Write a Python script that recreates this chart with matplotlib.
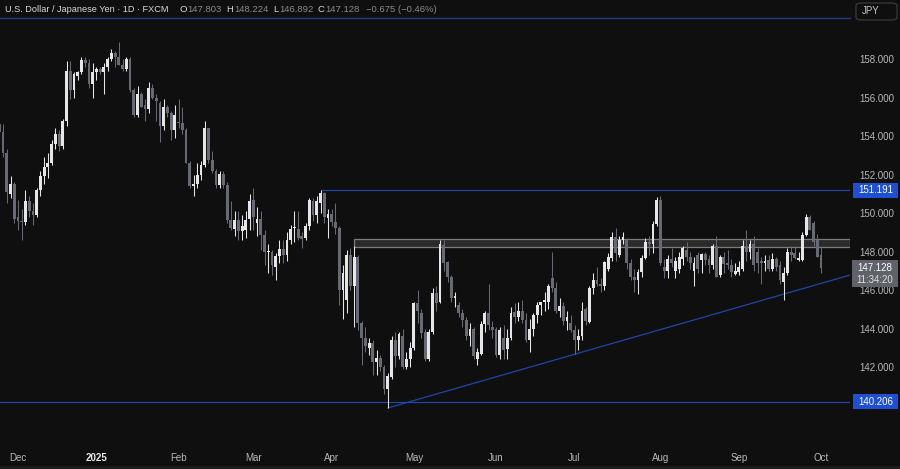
import numpy as np
import pandas as pd
import matplotlib
matplotlib.use("Agg")
import matplotlib.pyplot as plt
from matplotlib.patches import Rectangle, FancyBboxPatch

plt.rcParams['font.family'] = ['Liberation Sans', 'DejaVu Sans']

# Dias de cotizacion FXCM (sin 25-dic ni 1-ene)
fechas = pd.bdate_range('2024-11-25', '2025-10-01')
fechas = fechas[~fechas.isin(pd.to_datetime(['2024-12-25', '2025-01-01']))]

# Velas diarias USD/JPY
aperturas = [
    # nov
    154.6, 154.2, 153.1, 151.0, 151.5,
    # dic
    149.8, 149.6, 149.55, 150.6, 150.1, 149.9, 151.2, 151.9, 152.4, 152.6, 153.6,
    154.1, 153.5, 154.8, 157.4, 156.4, 157.1, 157.3, 157.95, 157.8, 156.7,
    # ene
    157.3, 157.5, 157.3, 157.6, 158.0, 158.3, 158.1, 157.7, 157.5, 158.0, 156.4,
    155.1, 156.2, 155.6, 155.4, 156.5, 155.95, 155.7, 154.5, 155.5, 155.2, 154.3,
    # feb
    154.75, 154.65, 154.3, 152.6, 151.4, 151.5, 152.0, 152.5, 154.4, 152.75,
    152.2, 151.45, 152.05, 151.45, 149.65, 149.15, 149.65, 149.05, 149.1, 149.7,
    # mar
    150.7, 149.5, 149.7, 148.85, 147.95, 148.0, 147.2, 147.75, 148.15, 147.8,
    148.6, 149.2, 149.15, 148.8, 148.7, 149.3, 150.6, 149.9, 150.5, 151.05, 149.75,
    # abr
    149.95, 149.55, 149.2, 146.0, 145.5, 147.8, 146.2, 147.7, 144.3, 143.5, 143.0,
    143.25, 142.25, 142.45, 142.0, 140.85, 141.5, 143.4, 142.55, 143.6, 142.0, 142.4,
    # may
    143.0, 145.3, 144.8, 143.8, 142.4, 143.8, 145.85, 145.4, 148.35, 147.45, 146.7,
    145.6, 145.2, 144.8, 144.45, 143.6, 144.0, 142.4, 142.7, 144.25, 144.8, 144.1,
    # jun
    144.0, 142.6, 143.5, 142.95, 143.5, 144.85, 144.6, 144.9, 144.45, 143.4, 144.0,
    144.7, 145.2, 145.4, 145.4, 146.6, 146.1, 144.9, 145.15, 144.4, 144.3,
    # jul
    143.9, 143.4, 143.6, 145.0, 144.35, 146.1, 146.5, 146.3, 146.2, 147.1, 147.65,
    148.75, 147.8, 148.6, 148.6, 147.4, 146.7, 146.5, 146.95, 147.65, 148.5, 148.4,
    149.45,
    # ago
    150.7, 147.2, 147.0, 147.6, 147.0, 147.1, 147.6, 148.1, 147.7, 147.0, 147.8,
    147.55, 147.85, 147.6, 147.3, 148.3, 146.8, 147.7, 147.4, 147.3, 146.85,
    # sep
    146.95, 147.1, 148.3, 147.95, 148.4, 148.0, 147.5, 147.4, 147.55, 147.1, 147.6,
    147.3, 146.4, 146.9, 148.0, 147.9, 147.55, 147.55, 148.85, 149.77, 149.46, 148.6,
    # oct
    147.803,
]
maximos = [
    155.0, 154.6, 153.3, 151.9, 151.6,
    150.7, 150.2, 151.2, 150.9, 150.5, 151.3, 152.2, 152.9, 153.1, 153.8, 154.4,
    154.3, 154.9, 157.9, 157.9, 157.3, 157.4, 158.1, 158.1, 158.0, 157.8,
    157.6, 157.6, 157.8, 158.1, 158.5, 158.4, 158.9, 158.0, 158.1, 158.1, 156.5,
    156.6, 156.3, 155.9, 156.8, 156.7, 156.2, 155.8, 155.9, 155.6, 155.3, 155.6,
    155.9, 155.5, 154.4, 152.7, 152.0, 152.6, 152.7, 154.8, 154.4, 153.2,
    152.3, 152.2, 152.2, 151.6, 150.6, 150.1, 150.1, 149.9, 150.1, 151.0,
    151.3, 150.3, 150.1, 149.1, 148.4, 148.1, 147.9, 148.6, 148.6, 149.0,
    149.4, 150.1, 150.1, 149.0, 149.5, 150.8, 150.8, 150.9, 151.2, 151.1, 150.2,
    150.2, 150.5, 149.3, 147.3, 148.1, 148.2, 148.3, 147.8, 144.4, 144.1, 143.5,
    143.4, 142.9, 142.6, 142.1, 141.7, 143.6, 143.8, 143.8, 144.0, 142.8, 143.3,
    145.4, 146.0, 145.0, 144.0, 144.0, 146.1, 146.2, 148.6, 148.6, 147.5, 146.8,
    145.9, 145.4, 145.0, 144.6, 144.3, 144.1, 143.0, 144.4, 144.9, 146.3, 144.4,
    144.1, 144.1, 144.2, 144.0, 145.1, 145.3, 145.4, 145.5, 144.8, 144.5, 144.8,
    145.4, 145.4, 145.9, 146.3, 148.0, 146.4, 145.6, 145.4, 144.9, 144.7,
    144.2, 144.0, 145.4, 145.1, 146.2, 146.9, 147.2, 146.6, 147.5, 147.9, 149.0,
    149.2, 148.8, 149.0, 148.7, 147.6, 147.1, 147.1, 147.8, 148.7, 148.8, 149.6,
    150.85,
    150.9, 147.6, 147.8, 148.2, 147.7, 148.0, 148.3, 148.5, 148.0, 147.7, 148.0,
    147.9, 148.0, 147.8, 148.4, 148.8, 147.8, 148.0, 148.1, 147.6, 147.4,
    147.5, 148.6, 149.1, 148.6, 148.8, 148.2, 147.7, 147.8, 147.8, 147.9, 147.7,
    147.5, 147.2, 148.2, 148.3, 148.3, 148.0, 149.0, 149.95, 149.9, 149.6, 148.9,
    148.224,
]
minimos = [
    153.6, 152.9, 150.5, 150.8, 149.5,
    149.1, 148.6, 149.4, 149.8, 149.4, 149.8, 150.9, 151.5, 151.8, 152.5, 153.3,
    153.2, 153.3, 154.5, 155.9, 156.0, 156.9, 157.2, 157.6, 156.5, 156.0,
    156.9, 157.2, 156.2, 157.4, 157.9, 157.6, 157.7, 157.4, 157.4, 156.3, 155.0,
    155.0, 155.5, 154.8, 155.2, 155.9, 154.8, 153.7, 154.3, 155.0, 153.8, 153.9,
    154.4, 154.1, 152.6, 151.3, 150.9, 151.3, 151.7, 152.4, 152.6, 152.1,
    151.3, 151.3, 151.3, 149.5, 149.1, 148.8, 148.6, 148.6, 148.7, 149.1,
    149.1, 148.8, 148.1, 147.3, 146.9, 146.8, 146.5, 147.4, 147.4, 147.5,
    148.4, 148.5, 148.6, 148.2, 148.6, 149.1, 149.6, 149.5, 150.0, 149.5, 148.7,
    149.3, 148.9, 145.2, 144.5, 144.8, 146.0, 144.1, 143.9, 142.1, 142.8, 142.6,
    141.6, 141.6, 141.8, 140.6, 139.87, 141.4, 142.0, 142.4, 141.9, 141.9, 142.0,
    142.9, 144.3, 143.5, 142.3, 142.3, 143.7, 144.9, 145.3, 147.0, 146.4, 145.4,
    145.1, 144.6, 144.1, 143.4, 143.1, 142.4, 142.1, 142.6, 143.8, 143.9, 143.5,
    142.5, 142.4, 142.4, 142.4, 143.4, 144.3, 144.4, 144.3, 143.3, 142.8, 143.6,
    144.3, 144.7, 144.9, 145.0, 145.9, 144.8, 144.6, 144.2, 143.9, 143.8,
    142.7, 142.9, 143.4, 144.2, 144.3, 145.8, 146.2, 145.9, 146.0, 147.0, 147.5,
    147.5, 147.7, 148.4, 147.1, 146.5, 145.9, 145.8, 146.7, 147.6, 147.8, 147.9,
    149.3,
    147.3, 146.6, 146.6, 147.2, 146.6, 146.9, 147.3, 147.5, 147.1, 146.2, 146.9,
    146.9, 147.3, 146.9, 147.1, 146.7, 146.7, 146.9, 147.1, 146.7, 146.8,
    146.8, 147.0, 147.5, 147.6, 147.0, 146.9, 146.3, 147.0, 147.0, 147.0, 147.0,
    146.3, 145.5, 146.8, 147.5, 147.6, 147.5, 147.5, 148.8, 149.1, 148.3, 147.7,
    146.892,
]
cierres = [
    154.2, 153.1, 151.1, 151.5, 149.7,
    149.6, 149.55, 150.6, 150.1, 149.9, 151.2, 151.9, 152.4, 152.6, 153.6, 154.1,
    153.5, 154.8, 157.4, 156.4, 157.2, 157.3, 157.95, 157.8, 156.7, 157.3,
    157.5, 157.3, 157.6, 158.0, 158.3, 158.1, 157.7, 157.5, 158.0, 156.4, 155.1,
    156.2, 155.5, 155.4, 156.5, 155.95, 155.8, 154.5, 155.5, 155.2, 154.3, 155.1,
    154.65, 154.3, 152.6, 151.4, 151.5, 152.0, 152.5, 154.4, 152.75, 152.2,
    151.45, 152.05, 151.45, 149.65, 149.2, 149.65, 149.05, 149.3, 149.65, 150.6,
    149.8, 149.7, 148.85, 148.0, 148.05, 147.3, 147.75, 148.15, 147.8, 148.6,
    149.15, 149.25, 148.7, 148.65, 149.3, 150.7, 149.9, 150.6, 151.05, 149.8, 149.95,
    149.55, 149.2, 146.0, 146.9, 147.8, 146.2, 147.7, 144.3, 143.5, 143.1, 143.25,
    142.25, 142.45, 142.0, 140.85, 141.55, 143.4, 142.55, 143.7, 142.0, 142.4, 143.0,
    145.3, 144.9, 143.75, 142.4, 143.8, 145.85, 145.35, 148.4, 147.4, 146.7, 145.6,
    145.7, 144.8, 144.45, 143.6, 144.0, 142.55, 142.8, 144.25, 144.8, 144.2, 143.9,
    142.6, 143.9, 142.9, 143.5, 144.8, 144.6, 144.9, 144.45, 143.4, 144.0, 144.7,
    145.2, 145.4, 145.5, 146.2, 146.1, 144.9, 145.15, 144.4, 144.6, 143.9,
    143.4, 143.6, 144.9, 144.4, 146.1, 146.5, 146.3, 146.2, 147.45, 147.7, 148.75,
    147.9, 148.6, 148.75, 147.4, 146.7, 146.5, 146.95, 147.65, 148.5, 148.4, 149.45,
    150.7,
    147.4, 147.0, 147.6, 147.4, 147.5, 147.7, 148.2, 147.7, 147.4, 147.4, 147.1,
    147.85, 147.55, 147.3, 148.3, 146.7, 147.7, 147.35, 147.3, 146.95, 147.0,
    147.2, 148.3, 147.95, 148.4, 147.3, 147.4, 147.4, 147.5, 147.1, 147.6, 147.2,
    146.5, 146.9, 148.0, 147.8, 147.65, 147.65, 148.85, 149.8, 149.1, 148.5, 147.73,
    147.128,
]

meses = ['Dec', '2025', 'Feb', 'Mar', 'Apr', 'May', 'Jun', 'Jul', 'Aug', 'Sep', 'Oct']
ticks_precio = [142, 144, 146, 148, 150, 152, 154, 156, 158]
nivel_alto = 151.191
nivel_bajo = 140.206
zona_baja, zona_alta = 148.25, 148.65
ultimo = 147.128
cuenta_atras = '11:34:20'

# Colores tipo TradingView oscuro
fondo = '#0f0f0f'
azul = '#2245a6'
azul_caja = '#1f4fd6'
texto = '#b8b8b8'
sube_col = '#e6e6e8'
baja_col = '#686a73'

x = np.arange(len(fechas))
o = np.array(aperturas)
h = np.array(maximos)
l = np.array(minimos)
c = np.array(cierres)

fig = plt.figure(figsize=(9, 4.69), dpi=100)
fig.patch.set_facecolor(fondo)
ax = fig.add_axes([0, 1 - 440 / 469, 850 / 900, 422 / 469])
ax.set_facecolor(fondo)

# escala: 2 dic en pixel 18, 3.735 px por vela
x_izq = 5 - 18 / 3.735
x_der = 5 + 832 / 3.735
ax.set_xlim(x_izq, x_der)
ax.set_ylim(158 - 381 / 19.25, 158 + 41 / 19.25)

# zona gris de resistencia
i_zona = fechas.get_loc(pd.Timestamp('2025-04-09'))
ax.add_patch(Rectangle((i_zona, zona_baja), x_der - i_zona, zona_alta - zona_baja,
                       facecolor='#2a2a2a', edgecolor='#7c7c7c', linewidth=0.9, zorder=1))

# lineas horizontales y tendencia
i_max = fechas.get_loc(pd.Timestamp('2025-03-27'))
ax.hlines(nivel_alto, i_max, x_der, color=azul, linewidth=0.9, zorder=1)
ax.axhline(nivel_bajo, color=azul, linewidth=0.9, zorder=1)
i_min = int(np.argmin(l))
i_sep = fechas.get_loc(pd.Timestamp('2025-09-17'))
pendiente = (145.785 - l[i_min]) / (i_sep - i_min)
ax.plot([i_min, x_der], [l[i_min], l[i_min] + pendiente * (x_der - i_min)],
        color=azul, linewidth=0.9, zorder=1)

# velas
colores = np.where(c >= o, sube_col, baja_col)
ax.vlines(x, l, h, colors=colores, linewidth=0.75, zorder=2)
ax.bar(x, np.maximum(np.abs(c - o), 0.05), bottom=np.minimum(o, c), width=0.76,
       color=colores, linewidth=0, zorder=3)

for s in ['left', 'right', 'bottom']:
    ax.spines[s].set_visible(False)
ax.spines['top'].set_color('#1f3c86')
ax.spines['top'].set_linewidth(1)

# eje de precios a la derecha
ax.yaxis.tick_right()
ax.set_yticks(ticks_precio)
ax.set_yticklabels([f'{v:.3f}' for v in ticks_precio])
ax.tick_params(axis='y', length=0, pad=7, labelsize=7, labelcolor=texto)

# meses abajo
serie = pd.Series(x, index=fechas)
primeros = serie.groupby(fechas.to_period('M')).first().values[1:]
ax.set_xticks(primeros)
ax.set_xticklabels(meses)
ax.tick_params(axis='x', length=0, pad=9, labelsize=7, labelcolor=texto)
ax.get_xticklabels()[1].set_fontweight('bold')
ax.get_xticklabels()[1].set_color('#e8e8e8')

# etiquetas de precio en el eje
trans = ax.get_yaxis_transform()
ancho = 45 / 850
for nivel in [nivel_alto, nivel_bajo]:
    ax.add_patch(Rectangle((853 / 850, nivel - 0.39), ancho, 0.78, transform=trans,
                           facecolor=azul_caja, edgecolor='none', clip_on=False, zorder=5))
    ax.text(875.5 / 850, nivel, f'{nivel:.3f}', transform=trans, ha='center', va='center',
            fontsize=7, color='white', zorder=6)
ax.add_patch(Rectangle((852 / 850, 146.16), 46 / 850, 1.42, transform=trans,
                       facecolor='#5f626b', edgecolor='none', clip_on=False, zorder=5))
ax.text(875 / 850, ultimo, f'{ultimo:.3f}', transform=trans, ha='center', va='center',
        fontsize=7, color='white', zorder=6)
ax.text(875 / 850, ultimo - 0.6, cuenta_atras, transform=trans, ha='center', va='center',
        fontsize=7, color='#e0e0e0', zorder=6)

# cabecera: letra blanca pegada a su valor gris
y_cab = 1 - 10 / 469
fig.text(5 / 900, y_cab, 'U.S. Dollar / Japanese Yen · 1D · FXCM', ha='left', va='center',
         fontsize=6.6, color='#d8d8d8')
ohlc = [('O', '147.803', 187), ('H', '148.224', 234), ('L', '146.892', 279),
        ('C', '147.128', 325)]
for letra, valor, px in ohlc:
    fig.text((px - 0.5) / 900, y_cab, letra, ha='right', va='center', fontsize=6.8,
             color='#d8d8d8')
    fig.text(px / 900, y_cab, valor, ha='left', va='center', fontsize=6.8, color='#8a8a8a')
fig.text(366 / 900, y_cab, '\u22120.675 (\u22120.46%)', ha='left', va='center',
         fontsize=6.8, color='#8a8a8a')

# boton JPY
fig.patches.append(FancyBboxPatch((856 / 900, 1 - 20 / 469), 41 / 900, 17 / 469,
                                  boxstyle='round,pad=0,rounding_size=0.006',
                                  transform=fig.transFigure, facecolor='none',
                                  edgecolor='#3a3a3a', linewidth=0.9))
fig.text(862 / 900, 1 - 11 / 469, 'JPY', ha='left', va='center', fontsize=7, color='#c8c8c8')

fig.patches.append(Rectangle((0, 0), 1, 3 / 469, transform=fig.transFigure,
                             facecolor='#1c1c1c', edgecolor='none'))

fig.savefig('out.png', dpi=100, facecolor=fondo)
